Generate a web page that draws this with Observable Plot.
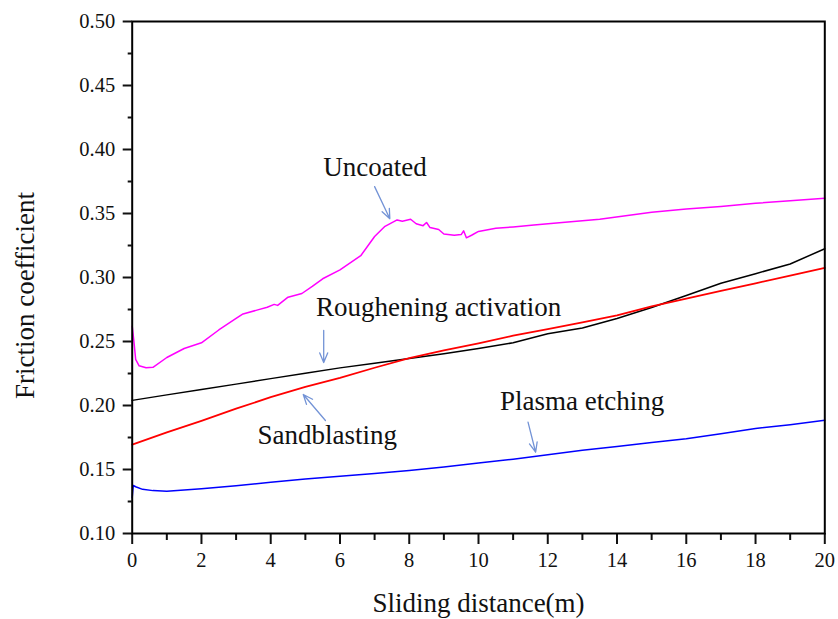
<!DOCTYPE html>
<html>
<head>
<meta charset="utf-8">
<script src="https://cdn.jsdelivr.net/npm/d3@7"></script>
<script src="https://cdn.jsdelivr.net/npm/@observablehq/plot@0.6"></script>
<style>
  html, body { margin: 0; padding: 0; background: #fff; }
  #chart svg { display: block; }
</style>
</head>
<body>
<div id="chart"></div>
<script>
// ---- data ----
const uncoatedX = [0, 0.05, 0.1, 0.2, 0.4, 0.6, 1.0, 1.5, 2.0, 2.5, 3.0, 3.2, 3.6, 3.9, 4.1, 4.2, 4.5, 4.9, 5.2, 5.5, 6.0, 6.6, 7.0, 7.3, 7.65, 7.8, 8.04, 8.2, 8.4, 8.5, 8.6, 8.85, 9.0, 9.3, 9.5, 9.57, 9.65, 9.8, 10.0, 10.5, 11.0, 11.6, 12.5, 13.5, 15.0, 16.0, 17.0, 18.0, 19.0, 20.0];
const uncoatedY = [0.262, 0.250, 0.236, 0.231, 0.2295, 0.2298, 0.2375, 0.2445, 0.2490, 0.2590, 0.2680, 0.2715, 0.2745, 0.2768, 0.2790, 0.2782, 0.2846, 0.2875, 0.2930, 0.2990, 0.3060, 0.3170, 0.3320, 0.3400, 0.3450, 0.3440, 0.3455, 0.3420, 0.3405, 0.3430, 0.3390, 0.3375, 0.3340, 0.3330, 0.3335, 0.3365, 0.3310, 0.3330, 0.3360, 0.3385, 0.3395, 0.3410, 0.3432, 0.3455, 0.3510, 0.3535, 0.3555, 0.3580, 0.3600, 0.3620];

const distance = [0, 1, 2, 3, 4, 5, 6, 7, 8, 9, 10, 11, 12, 13, 14, 15, 16, 17, 18, 19, 20];
const roughening = [0.204, 0.2083, 0.2125, 0.2167, 0.2210, 0.2252, 0.2294, 0.2330, 0.2368, 0.2405, 0.2445, 0.2490, 0.2560, 0.2605, 0.2680, 0.2765, 0.2860, 0.2955, 0.3030, 0.3105, 0.3225];
const sandblasting = [0.1695, 0.1790, 0.1880, 0.1975, 0.2065, 0.2145, 0.2215, 0.2295, 0.2370, 0.2430, 0.2485, 0.2545, 0.2597, 0.2650, 0.2705, 0.2775, 0.2835, 0.2895, 0.2955, 0.3015, 0.3075];

const plasmaX = [0, 0.03, 0.1, 0.3, 0.6, 1, 2, 3, 4, 5, 6, 7, 8, 9, 10, 11, 12, 13, 14, 15, 16, 17, 18, 19, 20];
const plasmaY = [0.128, 0.1375, 0.1365, 0.1345, 0.1335, 0.1330, 0.1350, 0.1373, 0.1400, 0.1425, 0.1448, 0.1468, 0.1493, 0.1520, 0.1550, 0.1580, 0.1615, 0.1650, 0.1680, 0.1710, 0.1740, 0.1780, 0.1820, 0.1850, 0.1885];

const labelText = ["Uncoated", "Roughening activation", "Sandblasting", "Plasma etching"];
const labelX = [7.01, 8.85, 5.63, 12.99];
const labelY = [0.386, 0.277, 0.1768, 0.2034];

const arrowX1 = [7.0, 5.53, 5.58, 11.43];
const arrowY1 = [0.371, 0.2586, 0.1883, 0.187];
const arrowX2 = [7.44, 5.53, 4.94, 11.65];
const arrowY2 = [0.3459, 0.2336, 0.2086, 0.1635];

const yMajor = [0.10, 0.15, 0.20, 0.25, 0.30, 0.35, 0.40, 0.45, 0.50];
const yMinor = [0.125, 0.175, 0.225, 0.275, 0.325, 0.375, 0.425, 0.475];
const xMajor = [0, 2, 4, 6, 8, 10, 12, 14, 16, 18, 20];
const xMinor = [1, 3, 5, 7, 9, 11, 13, 15, 17, 19];

const xTitle = "Sliding distance(m)";
const yTitle = "Friction coefficient";

// ---- build tables ----
const toPts = (xs, ys) => xs.map((x, i) => ({x, y: ys[i]}));
const uncoated = toPts(uncoatedX, uncoatedY);
const rough = toPts(distance, roughening);
const sand = toPts(distance, sandblasting);
const plasma = toPts(plasmaX, plasmaY);
const labels = labelText.map((t, i) => ({t, x: labelX[i], y: labelY[i]}));
const arrows = arrowX1.map((x1, i) => ({x1, y1: arrowY1[i], x2: arrowX2[i], y2: arrowY2[i]}));

const chart = Plot.plot({
  width: 838,
  height: 619,
  marginLeft: 131.7,
  marginRight: 13.7,
  marginTop: 21,
  marginBottom: 86,
  style: {fontFamily: "'Liberation Serif', 'Times New Roman', serif", background: "#fff", color: "#111"},
  x: {domain: [0, 20]},
  y: {domain: [0.10, 0.50]},
  marks: [
    Plot.axisY({ticks: yMinor, tickSize: 4, text: null, label: null, strokeWidth: 2}),
    Plot.axisY({ticks: yMajor, tickSize: 9, tickPadding: 8, tickFormat: d3.format(".2f"), fontSize: 20.5, label: null, strokeWidth: 2}),
    Plot.axisX({ticks: xMinor, tickSize: 7, text: null, label: null, strokeWidth: 2}),
    Plot.axisX({ticks: xMajor, tickSize: 11, tickPadding: 8, fontSize: 20.5, label: null, strokeWidth: 2}),
    Plot.line(uncoated, {x: "x", y: "y", stroke: "#ff00ff", strokeWidth: 1.5}),
    Plot.line(rough, {x: "x", y: "y", stroke: "#000000", strokeWidth: 1.5}),
    Plot.line(sand, {x: "x", y: "y", stroke: "#ff0000", strokeWidth: 1.8}),
    Plot.line(plasma, {x: "x", y: "y", stroke: "#0000ff", strokeWidth: 1.5}),
    Plot.arrow(arrows, {x1: "x1", y1: "y1", x2: "x2", y2: "y2", stroke: "#7393d6", strokeWidth: 1.3, headLength: 12, headAngle: 45}),
    Plot.text(labels, {x: "x", y: "y", text: "t", fontSize: 27, fill: "#111"}),
    Plot.frame({stroke: "#000", strokeWidth: 2}),
    Plot.text([xTitle], {frameAnchor: "bottom", textAnchor: "middle", lineAnchor: "middle", dy: 69.5, fontSize: 27, fill: "#111"}),
    Plot.text([yTitle], {frameAnchor: "left", textAnchor: "middle", lineAnchor: "middle", dx: -107.3, dy: 18, rotate: -90, fontSize: 27, fill: "#111"})
  ]
});
document.getElementById("chart").appendChild(chart);
</script>
</body>
</html>
